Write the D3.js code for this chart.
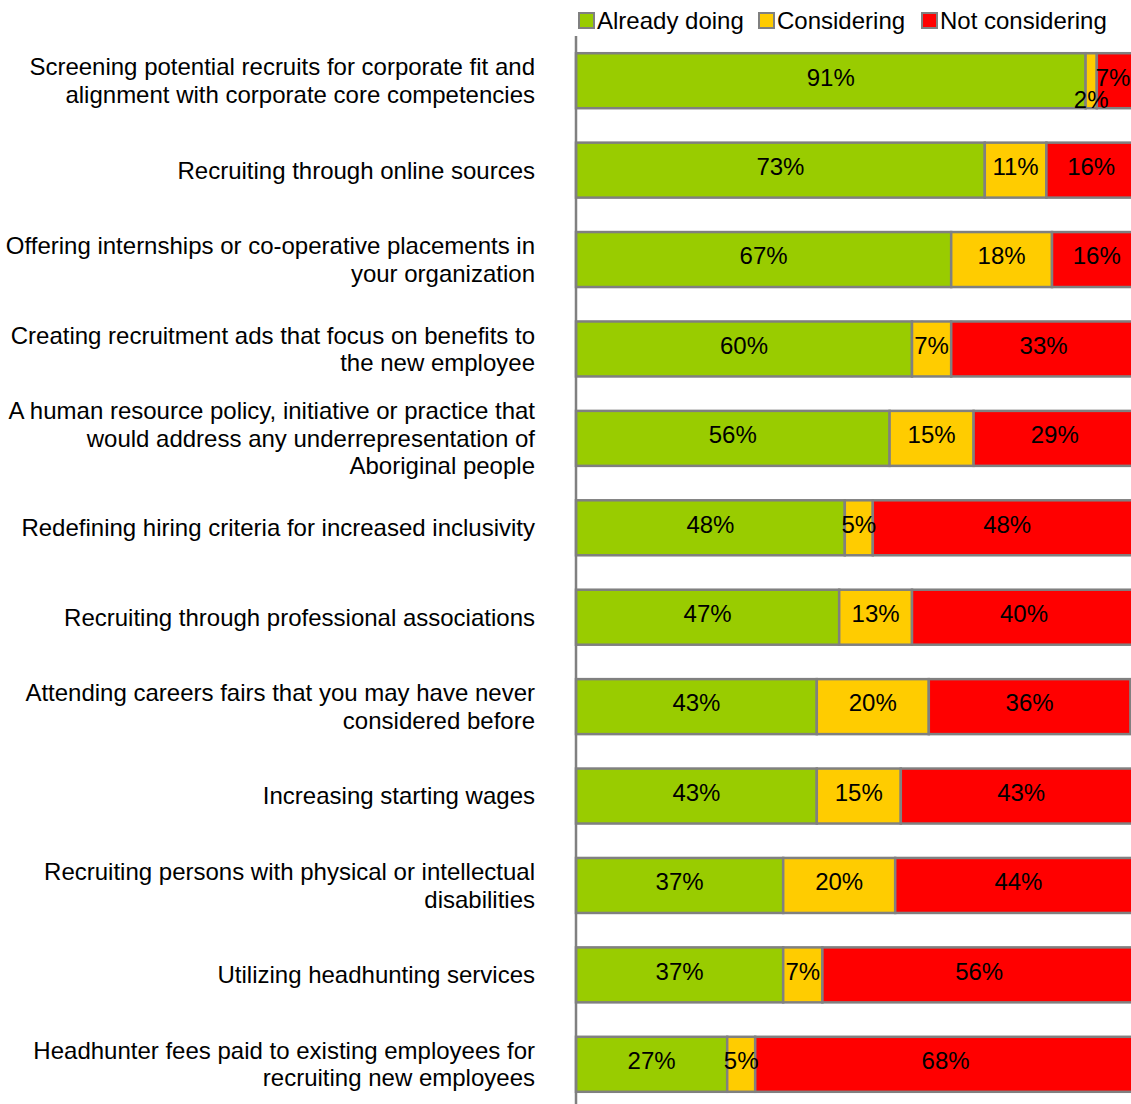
<!DOCTYPE html>
<html>
<head>
<meta charset="utf-8">
<script src="https://cdn.jsdelivr.net/npm/d3@7"></script>
<style>
  html, body { margin: 0; padding: 0; background: #fff; overflow: hidden; }
  svg { display: block; font-family: "Liberation Sans", Arial, sans-serif; }
</style>
</head>
<body>
<svg id="chart" width="1131" height="1104"></svg>
<script>
// Recruitment practices, share of respondents (%)
const categories = [
  ["Screening potential recruits for corporate fit and", "alignment with corporate core competencies"],
  ["Recruiting through online sources"],
  ["Offering internships or co-operative placements in", "your organization"],
  ["Creating recruitment ads that focus on benefits to", "the new employee"],
  ["A human resource policy, initiative or practice that", "would address any underrepresentation of", "Aboriginal people"],
  ["Redefining hiring criteria for increased inclusivity"],
  ["Recruiting through professional associations"],
  ["Attending careers fairs that you may have never", "considered before"],
  ["Increasing starting wages"],
  ["Recruiting persons with physical or intellectual", "disabilities"],
  ["Utilizing headhunting services"],
  ["Headhunter fees paid to existing employees for", "recruiting new employees"]
];
const alreadyDoing   = [91, 73, 67, 60, 56, 48, 47, 43, 43, 37, 37, 27];
const considering    = [2, 11, 18, 7, 15, 5, 13, 20, 15, 20, 7, 5];
const notConsidering = [7, 16, 16, 33, 29, 48, 40, 36, 43, 44, 56, 68];
const seriesNames  = ["Already doing", "Considering", "Not considering"];
const seriesColors = ["#99CC00", "#FFCC00", "#FF0000"];

const W = 1131;
const svg = d3.select("#chart");
const plotLeft = 576, plotTop = 36, plotBottom = 1109;
const pxPerPct = 5.6;
const fontSize = 24;

const x = d3.scaleLinear().domain([0, 100]).range([plotLeft, plotLeft + 100 * pxPerPct]);
const y = d3.scaleBand()
  .domain(d3.range(categories.length))
  .range([plotTop, plotBottom])
  .paddingInner(0.385)
  .paddingOuter(0.1925);

const rows = categories.map((c, i) => ({
  i, "Already doing": alreadyDoing[i], "Considering": considering[i], "Not considering": notConsidering[i]
}));
const stacked = d3.stack().keys(seriesNames)(rows);

// Bars
const layers = svg.append("g").selectAll("g").data(stacked).join("g")
  .attr("fill", (d, k) => seriesColors[k]);

layers.selectAll("rect").data(d => d).join("rect")
  .attr("x", d => x(d[0]))
  .attr("y", d => y(d.data.i))
  .attr("width", d => x(d[1]) - x(d[0]))
  .attr("height", y.bandwidth())
  .attr("stroke", "#808080")
  .attr("stroke-width", 2.5);

// Value labels (tiny segments get their label nudged below the centre;
// labels are kept inside the right edge of the drawing)
const labels = svg.append("g");
stacked.forEach(layer => {
  labels.selectAll(null).data(layer).join("text")
    .attr("x", d => Math.min((x(d[0]) + x(d[1])) / 2, W - 18))
    .attr("y", d => y(d.data.i) + y.bandwidth() / 2 + ((d[1] - d[0]) < 3 ? 22 : 0))
    .attr("dy", "0.2em")
    .attr("text-anchor", "middle")
    .attr("font-size", fontSize)
    .attr("fill", "#000")
    .text(d => (d[1] - d[0]) + "%");
});

// Category axis
svg.append("line")
  .attr("x1", plotLeft).attr("x2", plotLeft)
  .attr("y1", plotTop).attr("y2", plotBottom)
  .attr("stroke", "#808080").attr("stroke-width", 2.5);

const lineH = 27.5;
const catLabels = svg.append("g").selectAll("text").data(categories).join("text")
  .attr("text-anchor", "end")
  .attr("font-size", fontSize)
  .attr("fill", "#000")
  .attr("y", (d, i) => y(i) + y.bandwidth() / 2 - (d.length - 1) * lineH / 2);
catLabels.selectAll("tspan").data(d => d).join("tspan")
  .attr("x", 535)
  .attr("dy", (d, j) => j === 0 ? "0.35em" : lineH)
  .text(d => d);

// Legend
const legendX = [579, 759, 922];
const legend = svg.append("g").selectAll("g").data(seriesNames).join("g")
  .attr("transform", (d, k) => `translate(${legendX[k]},13)`);
legend.append("rect")
  .attr("width", 15).attr("height", 15)
  .attr("fill", (d, k) => seriesColors[k])
  .attr("stroke", "#808080").attr("stroke-width", 2);
legend.append("text")
  .attr("x", 18).attr("y", 8).attr("dy", "0.35em")
  .attr("font-size", fontSize)
  .text(d => d);
</script>
</body>
</html>
